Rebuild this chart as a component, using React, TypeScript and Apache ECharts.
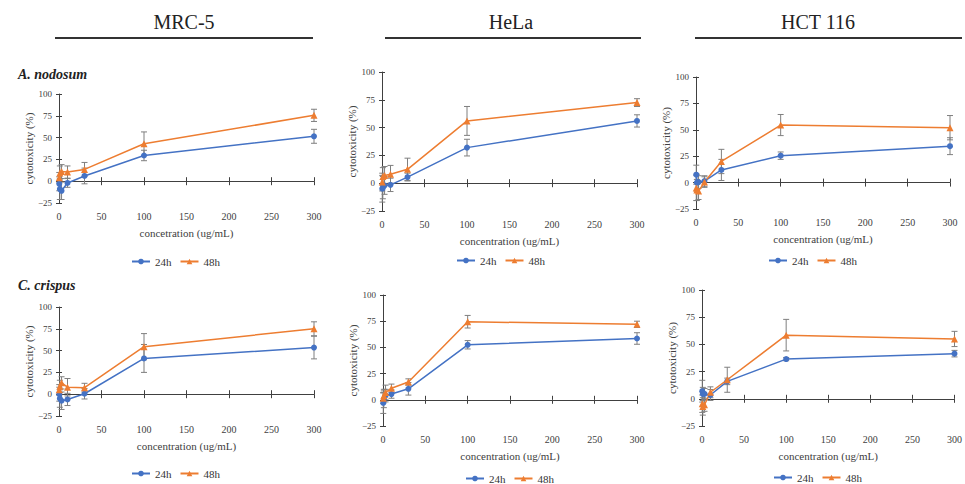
import React, { useEffect, useRef } from "react";
import * as echarts from "echarts";

// ---------- data ----------
const concentrations = [0.3, 1, 3, 10, 30, 100, 300];
const xTicks = [0, 50, 100, 150, 200, 250, 300];
const yTicks = [-25, 0, 25, 50, 75, 100];
const seriesNames = ["24h", "48h"];
const cellLines = ["MRC-5", "HeLa", "HCT 116"];
const algae = ["A. nodosum", "C. crispus"];

// A. nodosum
const mrc5Nod24 = [-3, -9, -11, -2, 6, 29.5, 51.5];
const mrc5Nod24Err = [8, 12, 10, 5, 9, 6, 8];
const mrc5Nod48 = [4, 9.5, 11, 10.5, 13.5, 43, 75.5];
const mrc5Nod48Err = [6, 8, 8, 7, 8, 13.5, 7];

const helaNod24 = [-5, -4, -2, -1.5, 5.5, 32, 56];
const helaNod24Err = [12, 10, 8, 6, 3.5, 7.5, 5.5];
const helaNod48 = [1, 6, 7, 8, 12.5, 56, 72.5];
const helaNod48Err = [8, 8, 8, 8, 10, 13, 3.5];

const hctNod24 = [7.5, 0, 0.5, 1.5, 12, 25.5, 34.5];
const hctNod24Err = [9, 8, 6, 5, 10, 3.5, 8];
const hctNod48 = [-5, -7, -8, 0.5, 20, 54.5, 52];
const hctNod48Err = [12, 10, 8, 5, 11.5, 10, 11.5];

// C. crispus
const mrc5Cri24 = [0, -5, -7.5, -6, 0.5, 41, 53.5];
const mrc5Cri24Err = [8, 10, 10, 7, 6, 16, 13];
const mrc5Cri48 = [5, 9, 13, 8, 7.5, 54.5, 75];
const mrc5Cri48Err = [6, 7, 7, 10, 5, 15, 8];

const helaCri24 = [-3, 0.5, 4, 5.5, 10.5, 52.5, 58.5];
const helaCri24Err = [10, 8, 6, 4, 6, 4, 5.5];
const helaCri48 = [1.5, 4, 7, 11, 17, 74.5, 72];
const helaCri48Err = [5, 6, 7, 4, 3, 6, 3];

const hctCri24 = [7, 4.5, 4.5, 3.5, 16, 36.5, 41.5];
const hctCri24Err = [10, 6, 5, 5, 3, 1.5, 3];
const hctCri48 = [-4.5, -7, -5.5, 6, 17.5, 58.5, 55];
const hctCri48Err = [8, 8, 6, 5, 11.5, 14.5, 7];

const xTitles = [
  "concetration (ug/mL)",
  "concentration (ug/mL)",
  "concentration (ug/mL)",
  "concentration (ug/mL)",
  "concentration (ug/mL)",
  "concentration (ug/mL)",
];
const yTitle = "cytotoxicity (%)";

// ---------- layout ----------
const FONT = "Liberation Serif, DejaVu Serif, serif";
const BLUE = "#4472C4";
const ORANGE = "#ED7D31";
const AXIS = "#404040";
const ERR = "#7f7f7f";

const panels = [
  { grid: { left: 59, top: 94, width: 255, height: 109 }, legend: { left: 131, top: 256 }, d24: mrc5Nod24, e24: mrc5Nod24Err, d48: mrc5Nod48, e48: mrc5Nod48Err },
  { grid: { left: 382, top: 72, width: 255, height: 139 }, legend: { left: 456, top: 255 }, d24: helaNod24, e24: helaNod24Err, d48: helaNod48, e48: helaNod48Err },
  { grid: { left: 696, top: 77, width: 254, height: 132 }, legend: { left: 768, top: 255 }, d24: hctNod24, e24: hctNod24Err, d48: hctNod48, e48: hctNod48Err },
  { grid: { left: 59, top: 307, width: 255, height: 109 }, legend: { left: 131, top: 468 }, d24: mrc5Cri24, e24: mrc5Cri24Err, d48: mrc5Cri48, e48: mrc5Cri48Err },
  { grid: { left: 383, top: 295, width: 254, height: 131 }, legend: { left: 465, top: 473 }, d24: helaCri24, e24: helaCri24Err, d48: helaCri48, e48: helaCri48Err },
  { grid: { left: 702, top: 290, width: 254, height: 136 }, legend: { left: 773, top: 472 }, d24: hctCri24, e24: hctCri24Err, d48: hctCri48, e48: hctCri48Err },
];

const headerPos = [
  { cx: 184, x1: 55, x2: 313 },
  { cx: 511, x1: 385, x2: 641 },
  { cx: 818, x1: 695, x2: 962 },
];
const algaeY = [74, 285];

const errRender = (color: string) => (params: any, api: any) => {
  const x = api.value(0);
  const y = api.value(1);
  const e = api.value(2);
  const top = api.coord([x, y + e]);
  const bot = api.coord([x, y - e]);
  const cx = top[0];
  const style = { stroke: color, lineWidth: 1 };
  return {
    type: "group",
    children: [
      { type: "line", shape: { x1: cx, y1: top[1], x2: cx, y2: bot[1] }, style },
      { type: "line", shape: { x1: cx - 3, y1: top[1], x2: cx + 3, y2: top[1] }, style },
      { type: "line", shape: { x1: cx - 3, y1: bot[1], x2: cx + 3, y2: bot[1] }, style },
    ],
  };
};

function buildOption() {
  const grid: any[] = [];
  const xAxis: any[] = [];
  const yAxis: any[] = [];
  const series: any[] = [];
  const legend: any[] = [];
  const yMin = yTicks[0];
  const yMax = yTicks[yTicks.length - 1];
  const yInt = yTicks[1] - yTicks[0];
  const xMin = xTicks[0];
  const xMax = xTicks[xTicks.length - 1];
  const xInt = xTicks[1] - xTicks[0];

  panels.forEach((p, i) => {
    grid.push({ ...p.grid, containLabel: false });
    const base = {
      type: "value",
      gridIndex: i,
      min: xMin,
      max: xMax,
      interval: xInt,
      splitLine: { show: false },
    };
    xAxis.push({
      ...base,
      position: "bottom",
      axisLine: { show: true, onZero: true, lineStyle: { color: AXIS, width: 1 } },
      axisTick: { show: true, inside: false, length: 4, lineStyle: { color: AXIS } },
      axisLabel: { show: false },
    });
    xAxis.push({
      ...base,
      position: "bottom",
      axisLine: { show: false, onZero: true },
      axisTick: { show: true, inside: true, length: 4, lineStyle: { color: AXIS } },
      axisLabel: { show: false },
    });
    xAxis.push({
      ...base,
      position: "bottom",
      axisLine: { show: false, onZero: false },
      axisTick: { show: false },
      axisLabel: { show: true, margin: 8, fontSize: 10, fontFamily: FONT, color: AXIS },
      name: xTitles[i],
      nameLocation: "middle",
      nameGap: 24,
      nameTextStyle: { fontSize: 11, fontFamily: FONT, color: AXIS },
    });
    const ybase = {
      type: "value",
      gridIndex: i,
      min: yMin,
      max: yMax,
      interval: yInt,
      position: "left",
      offset: 0,
      splitLine: { show: false },
    };
    yAxis.push({
      ...ybase,
      axisLine: { show: true, onZero: false, lineStyle: { color: AXIS, width: 1 } },
      axisTick: { show: true, inside: false, length: 3, lineStyle: { color: AXIS } },
      axisLabel: {
        show: true,
        margin: 7,
        fontSize: 9,
        fontFamily: FONT,
        color: AXIS,
        formatter: (v: number) => (v < 0 ? "\u2212" + Math.abs(v) : String(v)),
      },
      name: yTitle,
      nameLocation: "middle",
      nameGap: 25,
      nameTextStyle: { fontSize: 11, fontFamily: FONT, color: AXIS },
    });
    yAxis.push({
      ...ybase,
      axisLine: { show: false, onZero: false },
      axisTick: { show: true, inside: true, length: 3, lineStyle: { color: AXIS } },
      axisLabel: { show: false },
    });

    const xi = i * 3;
    const yi = i * 2;
    const mk = (vals: number[]) => concentrations.map((c, k) => [c, vals[k]]);
    const mkE = (vals: number[], errs: number[]) => concentrations.map((c, k) => [c, vals[k], errs[k]]);

    series.push({
      type: "custom",
      name: "err24-" + i,
      xAxisIndex: xi,
      yAxisIndex: yi,
      renderItem: errRender(ERR),
      encode: { x: 0, y: 1 },
      data: mkE(p.d24, p.e24),
      z: 3,
      silent: true,
    });
    series.push({
      type: "custom",
      name: "err48-" + i,
      xAxisIndex: xi,
      yAxisIndex: yi,
      renderItem: errRender(ERR),
      encode: { x: 0, y: 1 },
      data: mkE(p.d48, p.e48),
      z: 3,
      silent: true,
    });
    series.push({
      type: "line",
      name: seriesNames[0],
      xAxisIndex: xi,
      yAxisIndex: yi,
      data: mk(p.d24),
      symbol: "circle",
      symbolSize: 6,
      itemStyle: { color: BLUE },
      lineStyle: { color: BLUE, width: 1.5 },
      z: 4,
    });
    series.push({
      type: "line",
      name: seriesNames[1],
      xAxisIndex: xi,
      yAxisIndex: yi,
      data: mk(p.d48),
      symbol: "triangle",
      symbolSize: 7,
      itemStyle: { color: ORANGE },
      lineStyle: { color: ORANGE, width: 1.5 },
      z: 4,
    });

    legend.push({
      data: seriesNames,
      left: p.legend.left,
      top: p.legend.top,
      itemWidth: 18,
      itemHeight: 7,
      itemGap: 8,
      padding: 0,
      selectedMode: false,
      textStyle: { fontSize: 11, fontFamily: FONT, color: "#333" },
    });
  });

  const graphic: any[] = [];
  cellLines.forEach((name, i) => {
    const h = headerPos[i];
    graphic.push({
      type: "text",
      x: h.cx,
      y: 22,
      style: {
        text: name,
        fontSize: 20,
        fontFamily: FONT,
        fill: "#222",
        align: "center",
        verticalAlign: "middle",
      },
    });
    graphic.push({
      type: "line",
      shape: { x1: h.x1, y1: 38, x2: h.x2, y2: 38 },
      style: { stroke: "#333", lineWidth: 2 },
    });
  });
  algae.forEach((name, i) => {
    graphic.push({
      type: "text",
      x: 18,
      y: algaeY[i],
      style: {
        text: name,
        fontSize: 14,
        fontFamily: FONT,
        fontStyle: "italic",
        fontWeight: "bold",
        fill: "#222",
        align: "left",
        verticalAlign: "middle",
      },
    });
  });

  return {
    animation: false,
    backgroundColor: "#ffffff",
    grid,
    xAxis,
    yAxis,
    series,
    legend,
    graphic,
  };
}

export default function App() {
  const ref = useRef<HTMLDivElement>(null);
  useEffect(() => {
    document.body.style.margin = "0";
    if (!ref.current) return;
    const chart = echarts.init(ref.current, null, { renderer: "svg" });
    chart.setOption(buildOption());
    return () => chart.dispose();
  }, []);
  return (
    <div
      ref={ref}
      style={{ position: "absolute", left: 0, top: 0, width: 965, height: 484, background: "#fff" }}
    />
  );
}
